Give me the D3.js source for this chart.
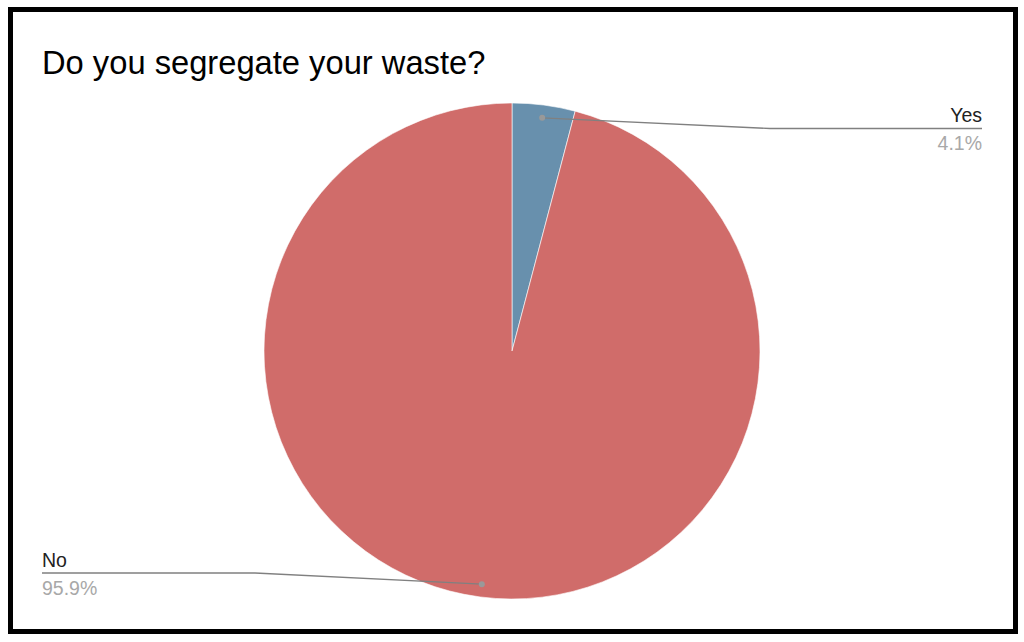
<!DOCTYPE html>
<html><head><meta charset="utf-8">
<script src="https://cdn.jsdelivr.net/npm/d3@7"></script>
<style>html,body{margin:0;padding:0;background:#fff;}svg{display:block;font-family:"Liberation Sans",Arial,sans-serif;}</style>
</head><body>
<script>
const title = "Do you segregate your waste?";
const categories = ["Yes", "No"];
const values = [4.1, 95.9];
const percentLabels = ["4.1%", "95.9%"];
const colors = ["#6890ad", "#d06c6a"];

const W = 1024, H = 642;
const svg = d3.select("body").append("svg").attr("width", W).attr("height", H);

svg.append("rect").attr("x", 10.5).attr("y", 9.5).attr("width", 1005).attr("height", 622)
  .attr("fill", "#fff").attr("stroke", "#000").attr("stroke-width", 5);

svg.append("text").attr("x", 42).attr("y", 74).attr("font-size", 32.7).attr("fill", "#000").text(title);

const cx = 512, cy = 351, R = 248;
const data = categories.map((c, i) => ({cat: c, value: values[i], pct: percentLabels[i], color: colors[i]}));
const pie = d3.pie().sort(null).value(d => d.value);
const arcs = pie(data);
const arc = d3.arc().innerRadius(0).outerRadius(R);
const g = svg.append("g").attr("transform", `translate(${cx},${cy})`);
g.selectAll("path").data(arcs).join("path")
  .attr("d", arc).attr("fill", d => d.data.color).attr("stroke", "#fff").attr("stroke-width", 0.6);

// leader lines
const dotArc = d3.arc().innerRadius(R * 0.948).outerRadius(R * 0.948);
const labelCfg = [
  {elbowX: 770, lineY: 128.5, endX: 982, anchor: "end"},
  {elbowX: 255, lineY: 573, endX: 42, anchor: "start"}
];
arcs.forEach((a, i) => {
  const [dx, dy] = dotArc.centroid(a);
  const px = cx + dx, py = cy + dy;
  const c = labelCfg[i];
  svg.append("path")
    .attr("d", d3.line()([[px, py], [c.elbowX, c.lineY], [c.endX, c.lineY]]))
    .attr("fill", "none").attr("stroke", "#808080").attr("stroke-width", 1.4);
  svg.append("circle").attr("cx", px).attr("cy", py).attr("r", 3).attr("fill", "#999");
  svg.append("text").attr("x", c.endX).attr("y", c.lineY - 6.5).attr("text-anchor", c.anchor)
    .attr("font-size", 19.5).attr("fill", "#222").text(a.data.cat);
  svg.append("text").attr("x", c.endX).attr("y", c.lineY + 21.5).attr("text-anchor", c.anchor)
    .attr("font-size", 19.5).attr("fill", "#a8a8a8").text(a.data.pct);
});
</script>
</body></html>
